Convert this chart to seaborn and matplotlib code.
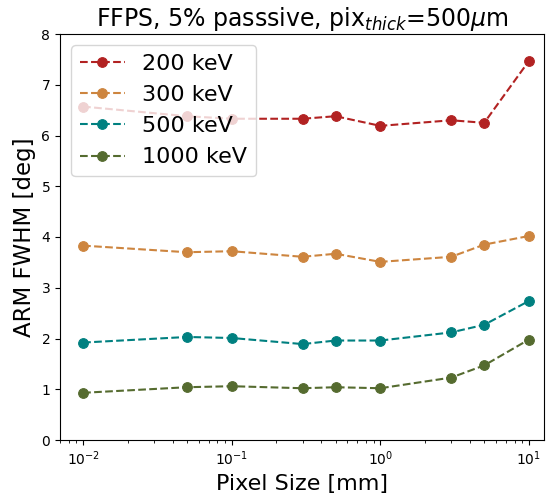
import numpy as np
import pandas as pd
import seaborn as sns
import matplotlib.pyplot as plt

pixel_size = [0.01, 0.05, 0.1, 0.3, 0.5, 1, 3, 5, 10]
energies = ["200 keV", "300 keV", "500 keV", "1000 keV"]
arm_200 = [6.57, 6.38, 6.33, 6.33, 6.38, 6.19, 6.30, 6.25, 7.47]
arm_300 = [3.83, 3.70, 3.72, 3.61, 3.67, 3.51, 3.61, 3.85, 4.02]
arm_500 = [1.92, 2.03, 2.01, 1.89, 1.96, 1.96, 2.12, 2.27, 2.74]
arm_1000 = [0.93, 1.04, 1.06, 1.02, 1.04, 1.02, 1.23, 1.47, 1.98]
colors = ["firebrick", "peru", "teal", "darkolivegreen"]

df = pd.DataFrame({
    "Pixel Size": pixel_size * 4,
    "ARM": arm_200 + arm_300 + arm_500 + arm_1000,
    "Energy": np.repeat(energies, len(pixel_size)),
})

fig = plt.figure(figsize=(5.46, 5.0), dpi=100)
ax = fig.add_axes([0.11, 0.12, 0.886, 0.812])
for e, c in zip(energies, colors):
    sub = df[df["Energy"] == e]
    sns.lineplot(data=sub, x="Pixel Size", y="ARM", ax=ax, color=c,
                 marker="o", markersize=7, markeredgecolor=c,
                 linestyle="--", linewidth=1.5, label=e)

ax.set_xscale("log")
ax.set_xlim(10**-2.155, 10**1.10)
ax.set_ylim(0, 8)
ax.set_xlabel("Pixel Size [mm]", fontsize=16)
ax.set_ylabel("ARM FWHM [deg]", fontsize=16.5)
ax.set_title(r"FFPS, 5% passsive, pix$_{thick}$=500$\mu$m", fontsize=17)
ax.legend(loc="upper left", fontsize=16)

fig.savefig("out.png", dpi=100)
